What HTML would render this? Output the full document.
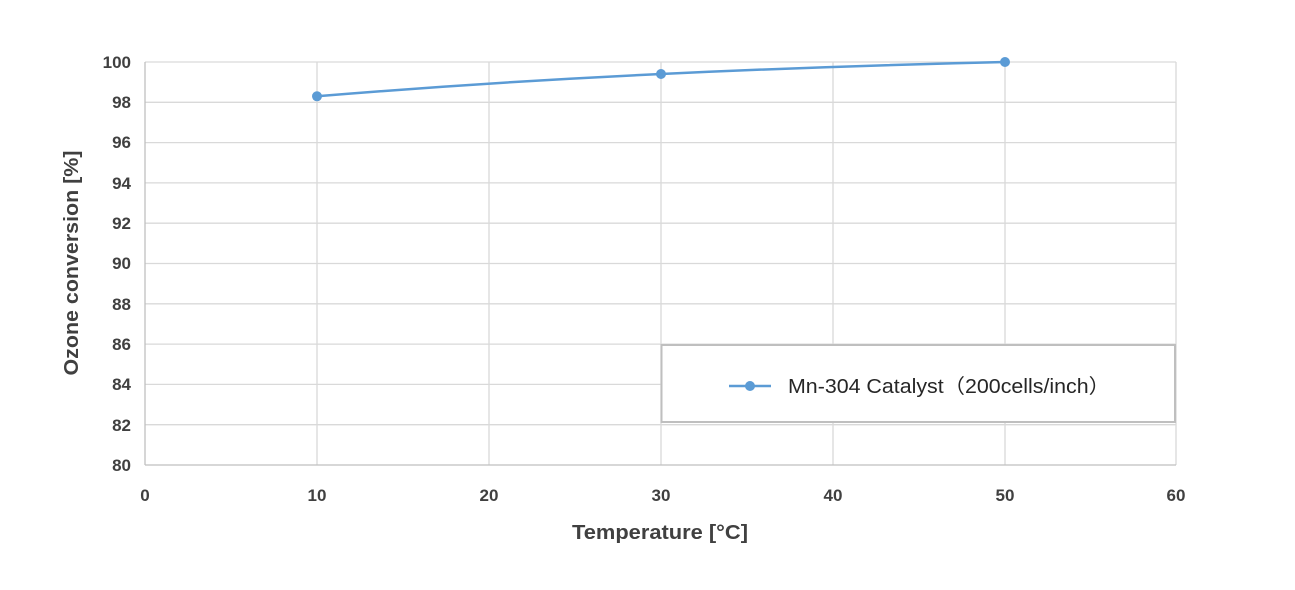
<!DOCTYPE html>
<html><head><meta charset="utf-8"><style>
body{margin:0;background:#fff;}
svg{display:block;font-family:"Liberation Sans","Noto Sans CJK JP",sans-serif;}
</style></head><body>
<svg width="1295" height="590" viewBox="0 0 1295 590" xmlns="http://www.w3.org/2000/svg">
<rect width="1295" height="590" fill="#fff"/>
<g stroke="#d9d9d9" stroke-width="1.3">
<line x1="145" y1="62" x2="1176" y2="62"/>
<line x1="145" y1="102.3" x2="1176" y2="102.3"/>
<line x1="145" y1="142.6" x2="1176" y2="142.6"/>
<line x1="145" y1="182.9" x2="1176" y2="182.9"/>
<line x1="145" y1="223.2" x2="1176" y2="223.2"/>
<line x1="145" y1="263.5" x2="1176" y2="263.5"/>
<line x1="145" y1="303.8" x2="1176" y2="303.8"/>
<line x1="145" y1="344.1" x2="1176" y2="344.1"/>
<line x1="145" y1="384.4" x2="1176" y2="384.4"/>
<line x1="145" y1="424.7" x2="1176" y2="424.7"/>
<line x1="317" y1="62" x2="317" y2="465"/>
<line x1="489" y1="62" x2="489" y2="465"/>
<line x1="661" y1="62" x2="661" y2="465"/>
<line x1="833" y1="62" x2="833" y2="465"/>
<line x1="1005" y1="62" x2="1005" y2="465"/>
<line x1="1176" y1="62" x2="1176" y2="465"/>
</g>
<g stroke="#bfbfbf" stroke-width="1.3">
<line x1="145" y1="465" x2="1176" y2="465"/>
<line x1="145" y1="62" x2="145" y2="465"/>
</g>
<g font-size="17" font-weight="bold" fill="#404040" text-anchor="end">
<text x="131" y="68">100</text><text x="131" y="108">98</text><text x="131" y="148">96</text>
<text x="131" y="189">94</text><text x="131" y="229">92</text><text x="131" y="269">90</text>
<text x="131" y="310">88</text><text x="131" y="350">86</text><text x="131" y="390">84</text>
<text x="131" y="431">82</text><text x="131" y="471">80</text>
</g>
<g font-size="17" font-weight="bold" fill="#404040" text-anchor="middle">
<text x="145" y="501">0</text><text x="317" y="501">10</text><text x="489" y="501">20</text>
<text x="661" y="501">30</text><text x="833" y="501">40</text><text x="1005" y="501">50</text><text x="1176" y="501">60</text>
</g>
<text x="660" y="539" font-size="20" font-weight="bold" fill="#404040" text-anchor="middle" textLength="176" lengthAdjust="spacingAndGlyphs">Temperature [°C]</text>
<text transform="translate(78,263) rotate(-90)" font-size="20" font-weight="bold" fill="#404040" text-anchor="middle" textLength="225" lengthAdjust="spacingAndGlyphs">Ozone conversion [%]</text>
<path d="M317,96.3 Q490,82 661,74 Q830,66 1005,62" fill="none" stroke="#5b9bd5" stroke-width="2.5"/>
<g fill="#5b9bd5"><circle cx="317" cy="96.3" r="5"/><circle cx="661" cy="74" r="5"/><circle cx="1005" cy="62" r="5"/></g>
<rect x="661.5" y="345" width="513.5" height="77" fill="#fff" stroke="#bfbfbf" stroke-width="2"/>
<line x1="729" y1="386" x2="771" y2="386" stroke="#5b9bd5" stroke-width="2.5"/>
<circle cx="750" cy="386" r="5" fill="#5b9bd5"/>
<text x="788" y="393" font-size="20" fill="#262626" textLength="322" lengthAdjust="spacingAndGlyphs">Mn-304 Catalyst（200cells/inch）</text>
</svg>
</body></html>
